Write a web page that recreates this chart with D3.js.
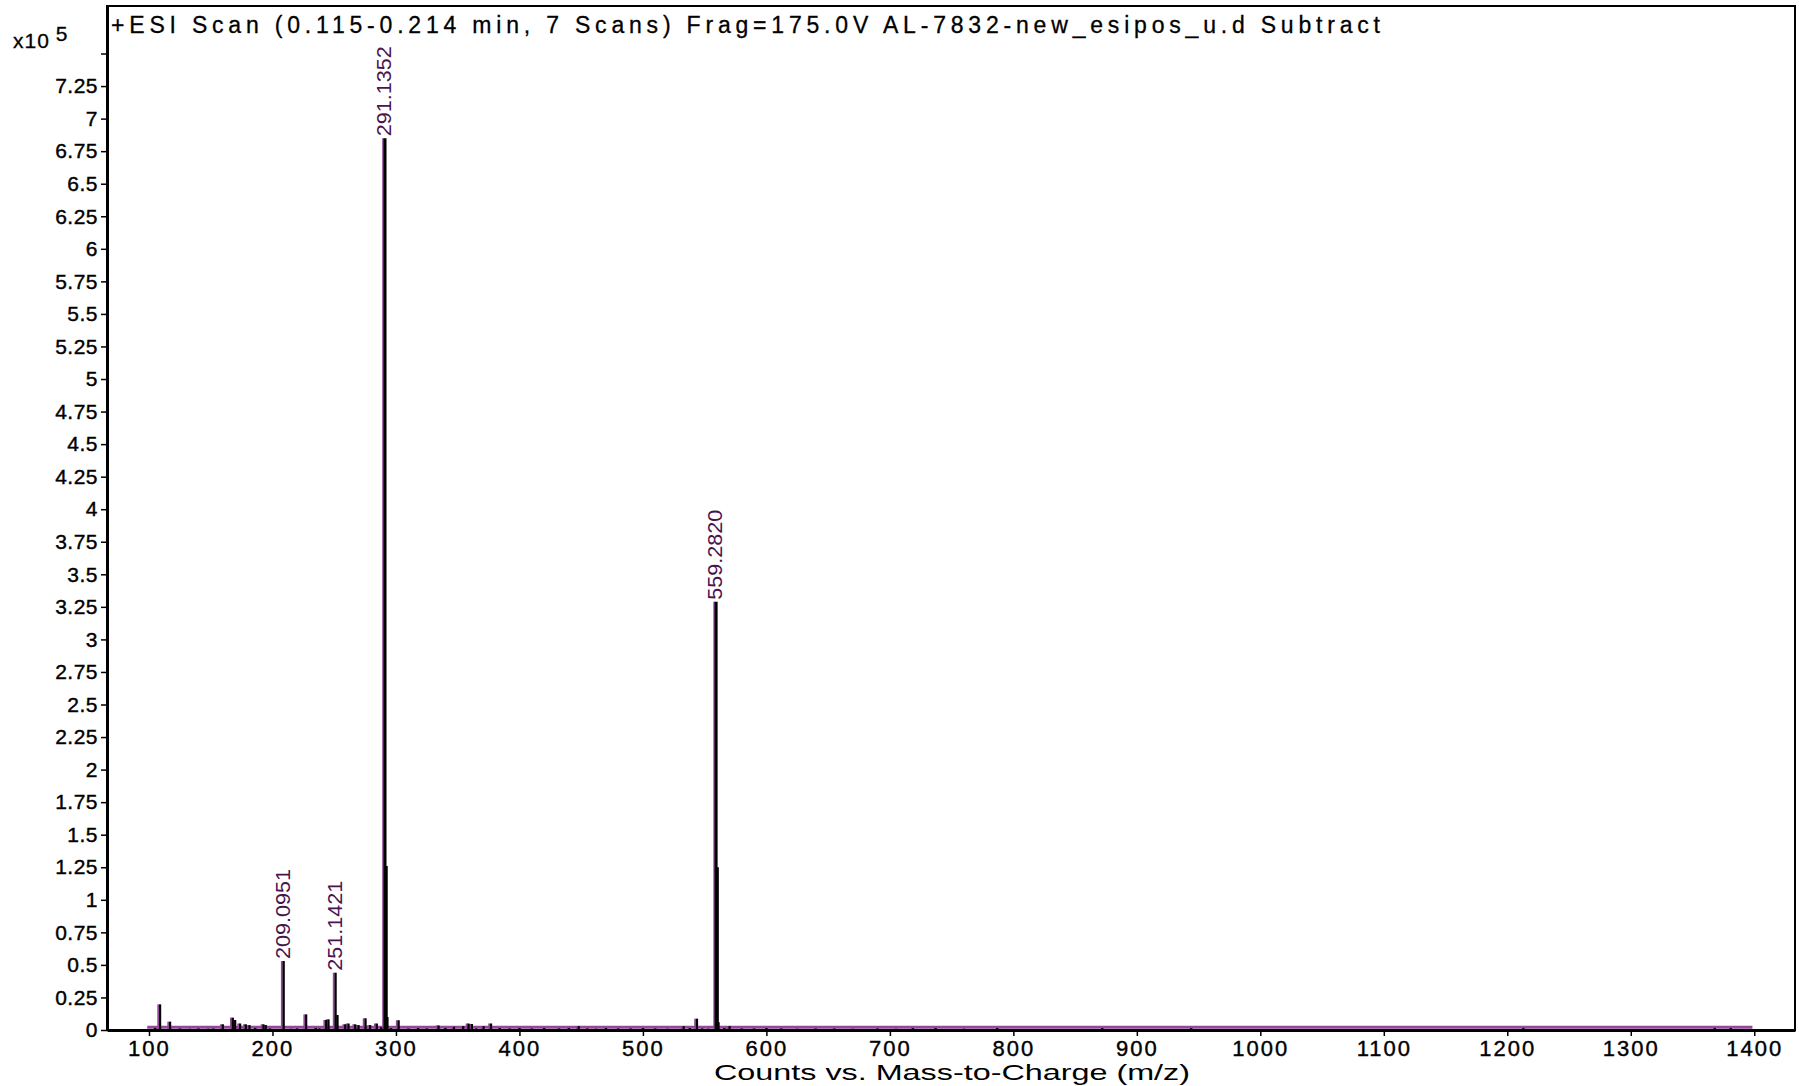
<!DOCTYPE html>
<html>
<head>
<meta charset="utf-8">
<script src="https://cdn.jsdelivr.net/npm/d3@7"></script>
<style>
    body { margin: 0; background: #fff; }
    svg text { font-family: "Liberation Sans", Arial, sans-serif; }
</style>
</head>
<body>
<div id="spectrum"></div>
<script>
// centroid peaks, m/z and counts (x10^5)
const peak_mz = [109.0, 117.1, 159.8, 167.9, 169.8, 173.8, 178.4, 181.4, 192.7, 194.6,
    209.0951, 227.3, 243.5, 245.4, 251.1421, 252.7, 258.9, 261.6, 267.0, 269.7,
    275.4, 279.1, 284.5, 291.1352, 292.14, 293.14, 302.2, 334.5, 347.0, 354.5,
    358.8, 361.5, 371.0, 377.0, 448.0, 533.0, 543.8, 559.2820, 560.28, 561.28, 570.2]
const peak_h = [0.197, 0.064, 0.044, 0.095, 0.077, 0.05, 0.044, 0.038, 0.044, 0.038,
    0.53, 0.12, 0.077, 0.082, 0.44, 0.115, 0.044, 0.05, 0.044, 0.038,
    0.09, 0.038, 0.05, 6.85, 1.26, 0.1, 0.075, 0.035, 0.025, 0.03,
    0.05, 0.046, 0.03, 0.05, 0.03, 0.03, 0.087, 3.29, 1.25, 0.06, 0.03]

// tiny sticks sitting on the baseline
const noise_mz = [105, 125, 133, 140, 148, 152, 186, 198, 215, 220, 235, 238, 288, 296,
    310, 318, 325, 340, 365, 384, 392, 400, 410, 420, 432, 440, 455, 462, 470, 480,
    490, 500, 510, 520, 538, 548, 553, 566, 580, 590, 600, 612, 625, 640, 655, 670,
    690, 705, 718.6, 737, 760, 786.9, 872, 944, 1213, 1368, 1381]
const noise_h = [0.015, 0.012, 0.01, 0.012, 0.01, 0.012, 0.015, 0.012, 0.01, 0.012, 0.015, 0.012, 0.02, 0.015,
    0.012, 0.015, 0.012, 0.015, 0.012, 0.015, 0.012, 0.015, 0.012, 0.015, 0.012, 0.015, 0.012, 0.01, 0.015, 0.012,
    0.012, 0.015, 0.012, 0.01, 0.015, 0.012, 0.01, 0.015, 0.012, 0.012, 0.015, 0.012, 0.01, 0.012, 0.012, 0.01,
    0.012, 0.01, 0.015, 0.015, 0.01, 0.015, 0.015, 0.015, 0.015, 0.015, 0.015]

const label_mz = [209.0951, 251.1421, 291.1352, 559.2820]
const label_txt = ["209.0951", "251.1421", "291.1352", "559.2820"]

const x_ticks = [100, 200, 300, 400, 500, 600, 700, 800, 900, 1000, 1100, 1200, 1300, 1400]
const y_ticks = d3.range(0, 7.51, 0.25)

const title_txt = "+ESI Scan (0.115-0.214 min, 7 Scans) Frag=175.0V AL-7832-new_esipos_u.d  Subtract"
const x_title = "Counts vs. Mass-to-Charge (m/z)"

const purple = "#93489a"
const label_col = "#4a1450"

function draw_spectrum() {
    const W = 1799, H = 1086
    const margin = {top: 6, right: 4, bottom: 56, left: 107}
    const width = W - margin.left - margin.right
    const height = H - margin.top - margin.bottom

    const svg = d3.select("#spectrum").append("svg")
        .attr("width", W)
        .attr("height", H)
    const g = svg.append("g")
        .attr("transform", "translate(" + margin.left + "," + margin.top + ")")

    const x = d3.scaleLinear().domain([66, 1433]).range([0, width])
    const y = d3.scaleLinear().domain([0, 7.865]).range([height, 0])

    // frame
    g.append("rect")
        .attr("width", width)
        .attr("height", height)
        .attr("fill", "none")
        .attr("stroke", "#000")
        .attr("stroke-width", 2)

    // purple profile trace, slightly left of the sticks
    const prof = g.append("g").attr("transform", "translate(-1.8,0)")
    prof.append("line")
        .attr("x1", x(100)).attr("x2", x(1400))
        .attr("y1", y(0.022)).attr("y2", y(0.022))
        .attr("stroke", purple)
        .attr("stroke-width", 3)
    prof.selectAll(".prof")
        .data(peak_mz)
        .enter().append("line")
        .attr("x1", d => x(d)).attr("x2", d => x(d))
        .attr("y1", y(0))
        .attr("y2", (d, i) => y(peak_h[i]))
        .attr("stroke", purple)
        .attr("stroke-width", 2)

    // black centroid sticks
    g.selectAll(".noise")
        .data(noise_mz)
        .enter().append("line")
        .attr("x1", d => x(d)).attr("x2", d => x(d))
        .attr("y1", y(0))
        .attr("y2", (d, i) => y(noise_h[i]))
        .attr("stroke", "#000")
        .attr("stroke-width", 2.5)
    g.selectAll(".stick")
        .data(peak_mz)
        .enter().append("line")
        .attr("x1", d => x(d)).attr("x2", d => x(d))
        .attr("y1", y(0))
        .attr("y2", (d, i) => y(peak_h[i]))
        .attr("stroke", "#000")
        .attr("stroke-width", (d, i) => peak_h[i] > 1 ? 3 : 2.2)

    // peak labels
    g.selectAll(".plabel")
        .data(label_mz)
        .enter().append("text")
        .attr("transform", d => "translate(" + (x(d) + 6) + "," + (y(peak_h[peak_mz.indexOf(d)]) - 2) + ") rotate(-90)")
        .attr("font-family", "'Liberation Sans Narrow', 'Liberation Sans', sans-serif")
        .attr("font-size", 21)
        .attr("fill", label_col)
        .attr("textLength", 90)
        .attr("lengthAdjust", "spacingAndGlyphs")
        .text((d, i) => label_txt[i])

    // x axis
    const xa = g.append("g")
        .attr("transform", "translate(0," + height + ")")
        .call(d3.axisBottom(x)
            .tickValues(x_ticks)
            .tickSizeInner(6)
            .tickSizeOuter(0)
            .tickPadding(4)
            .tickFormat(d3.format("d")))
    xa.select(".domain").attr("stroke-width", 3)
    xa.selectAll(".tick line").attr("stroke-width", 1.5)
    xa.selectAll("text")
        .attr("font-size", 22)
        .attr("letter-spacing", 2)
        .attr("fill", "#000")
        .attr("stroke", "#000")
        .attr("stroke-width", 0.4)

    // y axis
    const ya = g.append("g")
        .call(d3.axisLeft(y)
            .tickValues(y_ticks)
            .tickSizeInner(6)
            .tickSizeOuter(0)
            .tickPadding(3)
            .tickFormat(d => d === 7.5 ? "" : String(d)))
    ya.select(".domain").attr("stroke-width", 3)
    ya.selectAll(".tick line").attr("stroke-width", 1.5)
    ya.selectAll("text")
        .attr("font-size", 21)
        .attr("letter-spacing", 0.5)
        .attr("fill", "#000")
        .attr("stroke", "#000")
        .attr("stroke-width", 0.4)

    // title in the frame
    svg.append("text")
        .attr("x", 111)
        .attr("y", 33)
        .attr("font-size", 23)
        .attr("textLength", 1269)
        .attr("lengthAdjust", "spacing")
        .attr("fill", "#000")
        .attr("stroke", "#000")
        .attr("stroke-width", 0.3)
        .text(title_txt)

    // axis multiplier
    const mult = svg.append("text")
        .attr("x", 13)
        .attr("y", 48)
        .attr("font-size", 21)
        .attr("letter-spacing", 1)
        .attr("fill", "#000")
        .attr("stroke", "#000")
        .attr("stroke-width", 0.3)
    mult.append("tspan").text("x10")
    mult.append("tspan").attr("dx", 6).attr("dy", -7).text("5")

    svg.append("text")
        .attr("x", 952)
        .attr("y", 1080)
        .attr("text-anchor", "middle")
        .attr("font-family", "'Liberation Sans Narrow', 'Liberation Sans', sans-serif")
        .attr("font-size", 22)
        .attr("textLength", 476)
        .attr("lengthAdjust", "spacingAndGlyphs")
        .attr("fill", "#000")
        .text(x_title)
}

draw_spectrum()
</script>
</body>
</html>
